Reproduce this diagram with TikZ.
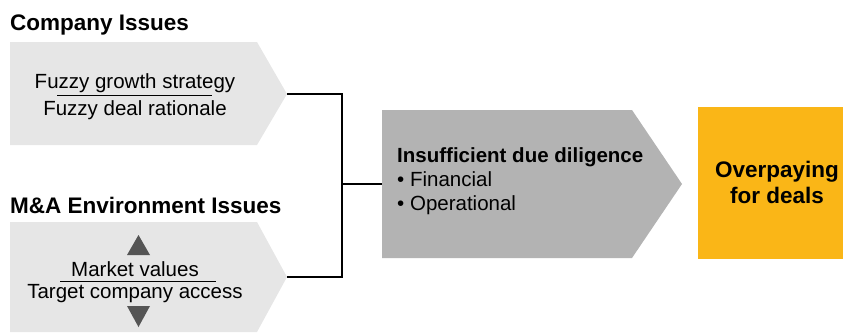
\documentclass[tikz,border=0pt]{standalone}
\usepackage{fontspec}
\setmainfont{Liberation Sans}
\usetikzlibrary{positioning}
\definecolor{lightgrey}{HTML}{E6E6E6}
\definecolor{midgrey}{HTML}{B3B3B3}
\definecolor{darkgrey}{HTML}{555555}
\definecolor{dealorange}{HTML}{FAB617}
\tikzstyle{heading} = [anchor=base west, inner sep=0pt, font=\fontsize{22.5}{27}\selectfont\bfseries]
\tikzstyle{item} = [anchor=base, inner sep=0pt, font=\fontsize{20.5}{24}\selectfont]
\tikzstyle{bullet} = [anchor=base west, inner sep=0pt, font=\fontsize{20.5}{24}\selectfont]
\tikzstyle{chevron} = [draw=none]
\tikzstyle{link} = [line width=1.3pt, black]
\tikzstyle{rule} = [line width=0.9pt, black]

\begin{document}
\begin{tikzpicture}[x=1pt, y=-1pt]
\useasboundingbox (0,0) rectangle (843,332);
% shapes
\fill [lightgrey] (10,42) -- (257,42) -- (287,94) -- (257,145) -- (10,145) -- cycle;
\fill [lightgrey] (10,222) -- (257,222) -- (287,277) -- (257,332) -- (10,332) -- cycle;
\fill [midgrey] (382,110) -- (632,110) -- (682,184) -- (632,258) -- (382,258) -- cycle;
\fill [dealorange] (698,107) rectangle (843,259);
\fill [darkgrey] (127,255) -- (150,255) -- (138.5,235) -- cycle;
\fill [darkgrey] (127,306) -- (150,306) -- (138.5,327) -- cycle;
\coordinate (comptip) at (287,94);
\coordinate (envtip) at (287,277);
\coordinate (join) at (342,184);
\coordinate (ddin) at (382,184);
% texts
\node (compttl) [heading] at (10,30) {Company Issues};
\node (envttl) [heading] at (10,213) {M\&A Environment Issues};
\node (growth) [item] at (135,88) {Fuzzy growth strategy};
\node (ration) [item] at (135,115) {Fuzzy deal rationale};
\node (market) [item] at (135,276) {Market values};
\node (target) [item] at (135,298) {Target company access};
\node (dd) [bullet, font=\fontsize{20.5}{24}\selectfont\bfseries] at (397,162) {Insufficient due diligence};
\node (fin) [bullet] at (397,186) {\textbullet\ Financial};
\node (oper) [bullet] at (397,210) {\textbullet\ Operational};
\node (over) [item, font=\fontsize{22.5}{27}\selectfont\bfseries] at (777,177) {Overpaying};
\node (deals) [item, font=\fontsize{22.5}{27}\selectfont\bfseries] at (777,203) {for deals};
% rules
\draw [rule] (57,95) -- (212,95);
\draw [rule] (60,281) -- (216,281);
% connectors
\draw [link] (comptip) -| (join);
\draw [link] (envtip) -| (join);
\draw [link] (join) -- (ddin);
\end{tikzpicture}
\end{document}
